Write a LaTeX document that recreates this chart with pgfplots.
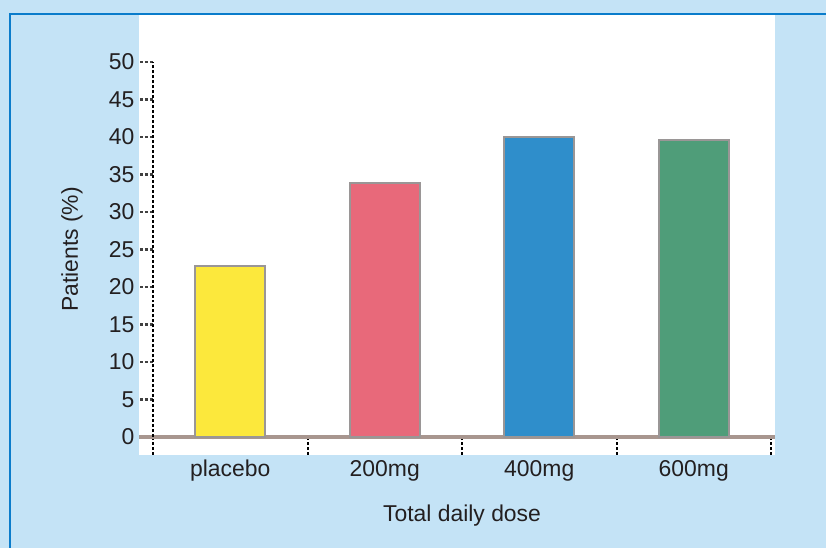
\documentclass[border=0pt]{standalone}
\usepackage{pgfplots}
\pgfplotsset{compat=1.18}
\usepackage{fontspec}
\setmainfont{Liberation Sans}

\definecolor{bgblue}{HTML}{C4E3F6}
\definecolor{frameblue}{HTML}{0A7CCB}
\definecolor{txt}{HTML}{231F20}
\definecolor{cyellow}{HTML}{FCE83C}
\definecolor{cpink}{HTML}{E8697A}
\definecolor{cblue}{HTML}{2F8ECB}
\definecolor{cgreen}{HTML}{4F9D79}
\definecolor{edge}{HTML}{9A9696}
\definecolor{baseline}{HTML}{A8968F}

\begin{document}
\begin{tikzpicture}[x=1bp,y=1bp]
  \useasboundingbox (0,0) rectangle (826,548);
  % page background and frame
  \fill[bgblue] (0,0) rectangle (826,548);
  \fill[white] (139,93) rectangle (775,533);
  \draw[frameblue, line width=2.5bp] (10,0) -- (10,534) -- (826,534);

  \begin{axis}[
      at={(153bp,111bp)}, anchor=south west,
      scale only axis,
      width=618bp, height=375bp,
      xmin=-0.5, xmax=3.5,
      ymin=0, ymax=50,
      ytick={0,5,...,50},
      xtick={0,1,2,3},
      xticklabels={placebo,200mg,400mg,600mg},
      minor xtick={-0.5,0.5,1.5,2.5,3.5},
      axis x line*=bottom,
      axis y line*=left,
      axis line style={-},
      x axis line style={draw=baseline, line width=4bp, shorten <=-14bp, shorten >=-4bp},
      y axis line style={draw=black, line width=2bp, densely dashed},
      tick align=outside,
      major x tick style={draw=none},
      minor x tick style={black, line width=2bp, densely dashed},
      minor tick length=18bp,
      y tick style={black!75, line width=2.5bp, densely dashed},
      major tick length=13bp,
      /pgf/number format/assume math mode=true,
      ticklabel style={font=\fontsize{23}{27}\selectfont, text=txt},
      yticklabel style={xshift=-2bp},
      xticklabel style={anchor=base, yshift=-27bp},
      xlabel={Total daily dose},
      ylabel={Patients (\%)},
      xlabel style={at={(axis description cs:0.5,-0.2107)}, anchor=center, font=\fontsize{23}{27}\selectfont, text=txt},
      ylabel style={at={(axis description cs:-0.1311,0.5)}, anchor=center, rotate=0, font=\fontsize{23}{27}\selectfont, text=txt},
      ybar, bar width=70bp, bar shift=0pt,
      clip=false,
    ]
    \addplot[fill=cyellow, draw=edge, line width=2bp] coordinates {(0,22.8)};
    \addplot[fill=cpink, draw=edge, line width=2bp] coordinates {(1,33.9)};
    \addplot[fill=cblue, draw=edge, line width=2bp] coordinates {(2,40)};
    \addplot[fill=cgreen, draw=edge, line width=2bp] coordinates {(3,39.6)};
  \end{axis}
\end{tikzpicture}
\end{document}
